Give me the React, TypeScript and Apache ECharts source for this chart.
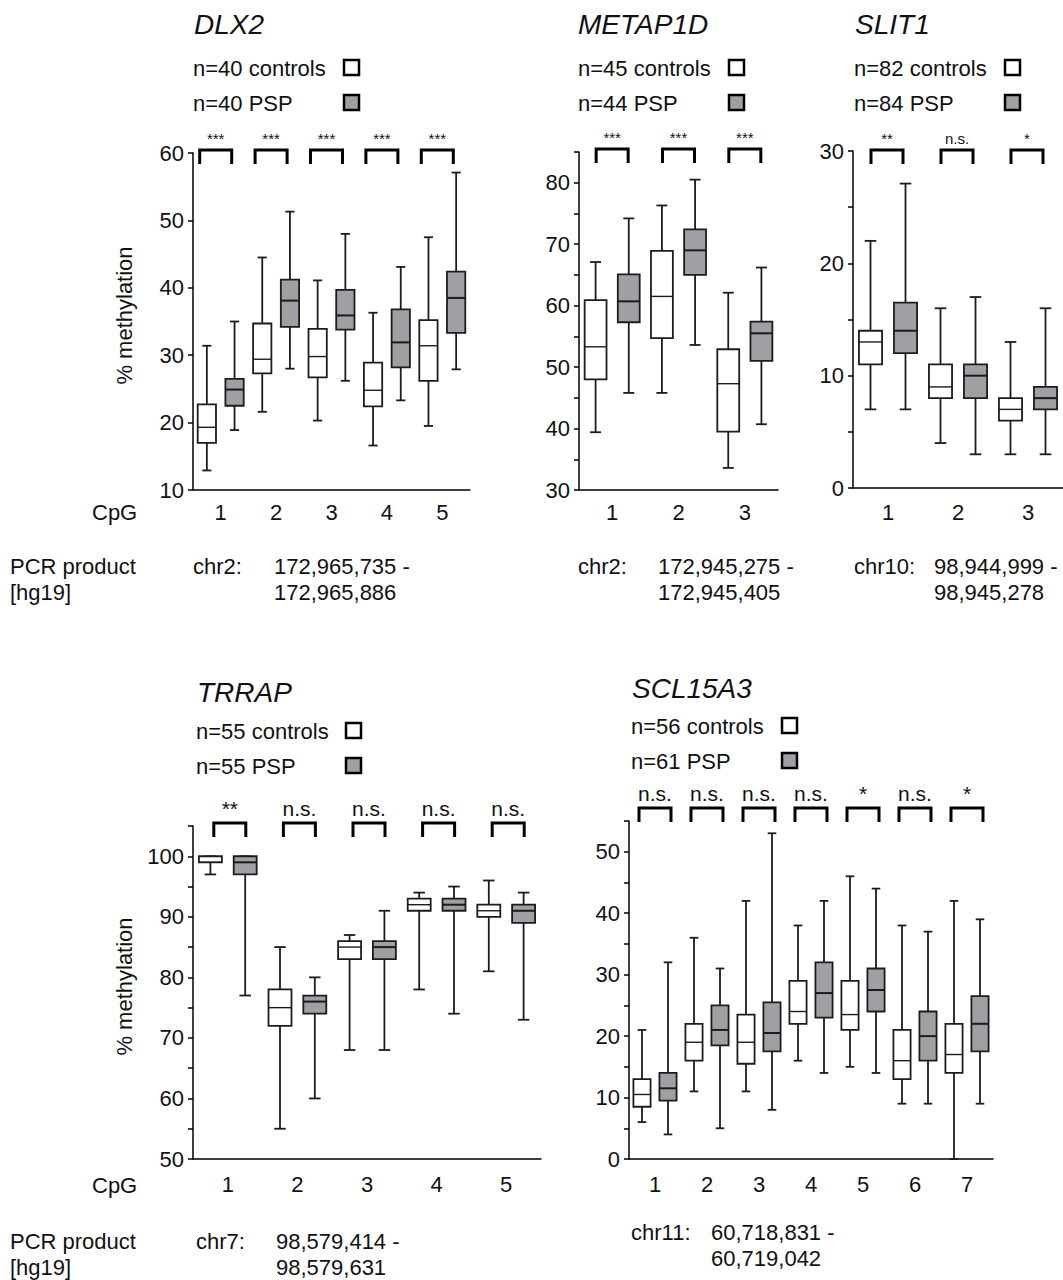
import React, { useEffect, useRef } from "react";
import * as echarts from "echarts";

const FONT = '"Liberation Sans", Arial, Helvetica, sans-serif';
const PSP_FILL = "#a09fa4";
const EDGE = "#1c1c1c";
const INK = "#111111";

// ---- data: [lower whisker, Q1, median, Q3, upper whisker] ----
const DLX2_CTRL = [
  [12.9, 17.0, 19.3, 22.7, 31.4],
  [21.6, 27.3, 29.4, 34.7, 44.5],
  [20.3, 26.7, 29.8, 33.9, 41.1],
  [16.6, 22.4, 24.8, 28.9, 36.3],
  [19.5, 26.2, 31.4, 35.2, 47.5],
];
const DLX2_PSP = [
  [18.9, 22.5, 24.9, 26.5, 35.0],
  [28.0, 34.2, 38.1, 41.2, 51.3],
  [26.2, 33.8, 35.9, 39.7, 48.0],
  [23.3, 28.2, 31.9, 36.8, 43.1],
  [27.9, 33.3, 38.5, 42.4, 57.1],
];
const DLX2_SIG = ["***", "***", "***", "***", "***"];

const METAP1D_CTRL = [
  [39.4, 48.0, 53.3, 60.9, 67.1],
  [45.8, 54.7, 61.5, 68.9, 76.3],
  [33.6, 39.5, 47.3, 52.9, 62.1],
];
const METAP1D_PSP = [
  [45.8, 57.3, 60.7, 65.1, 74.2],
  [53.6, 65.0, 69.0, 72.4, 80.5],
  [40.7, 51.0, 55.5, 57.4, 66.2],
];
const METAP1D_SIG = ["***", "***", "***"];

const SLIT1_CTRL = [
  [7, 11, 13, 14, 22],
  [4, 8, 9, 11, 16],
  [3, 6, 7, 8, 13],
];
const SLIT1_PSP = [
  [7, 12, 14, 16.5, 27.1],
  [3, 8, 10, 11, 17],
  [3, 7, 8, 9, 16],
];
const SLIT1_SIG = ["**", "n.s.", "*"];

const TRRAP_CTRL = [
  [97, 99, 99, 100, 100],
  [55, 72, 75, 78, 85],
  [68, 83, 85, 86, 87],
  [78, 91, 92, 93, 94],
  [81, 90, 91, 92, 96],
];
const TRRAP_PSP = [
  [77, 97, 99, 100, 100],
  [60, 74, 76, 77, 80],
  [68, 83, 85, 86, 91],
  [74, 91, 92, 93, 95],
  [73, 89, 91, 92, 94],
];
const TRRAP_SIG = ["**", "n.s.", "n.s.", "n.s.", "n.s."];

const SCL15A3_CTRL = [
  [6, 8.5, 10.5, 13, 21],
  [11, 16, 19, 22, 36],
  [11, 15.5, 19, 23.5, 42],
  [16, 22, 24, 29, 38],
  [15, 21, 23.5, 29, 46],
  [9, 13, 16, 21, 38],
  [0, 14, 17, 22, 42],
];
const SCL15A3_PSP = [
  [4, 9.5, 11.5, 14, 32],
  [5, 18.5, 21, 25, 31],
  [8, 17.5, 20.5, 25.5, 53],
  [14, 23, 27, 32, 42],
  [14, 24, 27.5, 31, 44],
  [9, 16, 20, 24, 37],
  [9, 17.5, 22, 26.5, 39],
];
const SCL15A3_SIG = ["n.s.", "n.s.", "n.s.", "n.s.", "*", "n.s.", "*"];

// ---- texts ----
const TITLES = ["DLX2", "METAP1D", "SLIT1", "TRRAP", "SCL15A3"];
const N_CTRL = ["n=40 controls", "n=45 controls", "n=82 controls", "n=55 controls", "n=56 controls"];
const N_PSP = ["n=40 PSP", "n=44 PSP", "n=84 PSP", "n=55 PSP", "n=61 PSP"];
const CHROMS = ["chr2:", "chr2:", "chr10:", "chr7:", "chr11:"];
const RANGE_START = ["172,965,735 -", "172,945,275 -", "98,944,999 -", "98,579,414 -", "60,718,831 -"];
const RANGE_END = ["172,965,886", "172,945,405", "98,945,278", "98,579,631", "60,719,042"];
const Y_NAME = "% methylation";
const CPG = "CpG";
const PCR = "PCR product";
const HG = "[hg19]";

// ---- layout (positions / styles) ----
const PANELS = [
  { ctrl: DLX2_CTRL, psp: DLX2_PSP, sig: DLX2_SIG, grid: { left: 193, top: 153, width: 277, height: 337 }, yMin: 10, yMax: 60, yInt: 10,
    lift: 3, shift: -5, sigSize: 15, titleX: 194, titleY: 24, legX: 193, legY: 68, sqX: 344, infoY: 566, chrX: 193, rngX: 274, yName: true, cpgY: 512, xMargin: 11 },
  { ctrl: METAP1D_CTRL, psp: METAP1D_PSP, sig: METAP1D_SIG, grid: { left: 579, top: 152, width: 199, height: 338 }, yMin: 30, yMax: 85, yInt: 5,
    lift: 3, shift: 0, sigSize: 15, titleX: 578, titleY: 24, legX: 578, legY: 68, sqX: 729, infoY: 566, chrX: 578, rngX: 658, yName: false, cpgY: 0, xMargin: 11 },
  { ctrl: SLIT1_CTRL, psp: SLIT1_PSP, sig: SLIT1_SIG, grid: { left: 853, top: 151, width: 215, height: 337 }, yMin: 0, yMax: 30, yInt: 5,
    lift: 1, shift: -1, sigSize: 15, titleX: 855, titleY: 24, legX: 854, legY: 68, sqX: 1005, infoY: 566, chrX: 854, rngX: 934, yName: false, cpgY: 0, xMargin: 13 },
  { ctrl: TRRAP_CTRL, psp: TRRAP_PSP, sig: TRRAP_SIG, grid: { left: 193, top: 826, width: 348, height: 333 }, yMin: 50, yMax: 105, yInt: 5,
    lift: 3, shift: 2, sigSize: 21, titleX: 197, titleY: 692, legX: 196, legY: 731, sqX: 346, infoY: 1241, chrX: 196, rngX: 276, yName: true, cpgY: 1185, xMargin: 14 },
  { ctrl: SCL15A3_CTRL, psp: SCL15A3_PSP, sig: SCL15A3_SIG, grid: { left: 629, top: 821, width: 364, height: 338 }, yMin: 0, yMax: 55, yInt: 5,
    lift: 13, shift: 0, sigSize: 21, titleX: 632, titleY: 688, legX: 631, legY: 726, sqX: 782, infoY: 1232, chrX: 631, rngX: 711, yName: false, cpgY: 0, xMargin: 14 },
];

const renderBox = (_params: any, api: any) => {
  const idx = api.value(0);
  const lo = api.coord([idx, api.value(1)]);
  const q1 = api.coord([idx, api.value(2)]);
  const md = api.coord([idx, api.value(3)]);
  const q3 = api.coord([idx, api.value(4)]);
  const hi = api.coord([idx, api.value(5)]);
  const psp = api.value(6) === 1;
  const band = api.size([1, 0])[0];
  const bw = band * 0.66;
  const cw = bw * 0.5;
  const cx = lo[0];
  const st = { stroke: EDGE, lineWidth: 1.8, fill: null };
  return {
    type: "group",
    children: [
      { type: "line", shape: { x1: cx, y1: hi[1], x2: cx, y2: q3[1] }, style: st },
      { type: "line", shape: { x1: cx, y1: q1[1], x2: cx, y2: lo[1] }, style: st },
      { type: "line", shape: { x1: cx - cw / 2, y1: hi[1], x2: cx + cw / 2, y2: hi[1] }, style: st },
      { type: "line", shape: { x1: cx - cw / 2, y1: lo[1], x2: cx + cw / 2, y2: lo[1] }, style: st },
      {
        type: "rect",
        shape: { x: cx - bw / 2, y: q3[1], width: bw, height: q1[1] - q3[1] },
        style: { fill: psp ? PSP_FILL : "#ffffff", stroke: EDGE, lineWidth: 1.8 },
      },
      { type: "line", shape: { x1: cx - bw / 2, y1: md[1], x2: cx + bw / 2, y2: md[1] }, style: { stroke: EDGE, lineWidth: psp ? 2 : 1.4 } },
    ],
  };
};

const makeBracket = (p: any) => (_params: any, api: any) => {
  const k = api.value(0);
  const a = api.coord([2 * k, p.yMax]);
  const b = api.coord([2 * k + 1, p.yMax]);
  const cx = (a[0] + b[0]) / 2 + p.shift;
  const top = a[1] - p.lift;
  const half = 16;
  return {
    type: "group",
    children: [
      {
        type: "polyline",
        shape: { points: [[cx - half, top + 14], [cx - half, top], [cx + half, top], [cx + half, top + 14]] },
        style: { stroke: "#000", lineWidth: 3, fill: null, lineJoin: "miter" },
      },
      {
        type: "text",
        x: cx,
        y: top - 4,
        style: { text: p.sig[k], fontSize: p.sigSize, fontFamily: FONT, fill: INK, align: "center", verticalAlign: "bottom" },
      },
    ],
  };
};

function buildOption() {
  const grid: any[] = [];
  const xAxis: any[] = [];
  const yAxis: any[] = [];
  const series: any[] = [];
  const graphic: any[] = [];

  const txt = (text: string, x: number, y: number, size = 22, extra: any = {}) => ({
    type: "text",
    x,
    y,
    silent: true,
    style: { text, fontSize: size, fontFamily: FONT, fill: INK, align: "left", verticalAlign: "middle", ...extra },
  });

  PANELS.forEach((p, i) => {
    const n = p.ctrl.length;
    grid.push({ ...p.grid, containLabel: false });
    const boxCats: string[] = [];
    const pairCats: string[] = [];
    for (let k = 0; k < n; k++) {
      boxCats.push(`${k + 1}c`, `${k + 1}p`);
      pairCats.push(String(k + 1));
    }
    xAxis.push({
      type: "category",
      gridIndex: i,
      position: "bottom",
      data: boxCats,
      axisLine: { lineStyle: { color: "#000", width: 1.5 } },
      axisTick: { alignWithLabel: true, length: 7, lineStyle: { color: "#000", width: 1.5 } },
      axisLabel: { show: false },
      splitLine: { show: false },
    });
    xAxis.push({
      type: "category",
      gridIndex: i,
      position: "bottom",
      data: pairCats,
      axisLine: { show: false },
      axisTick: { show: false },
      axisLabel: { fontSize: 22, fontFamily: FONT, color: INK, margin: p.xMargin },
      splitLine: { show: false },
    });
    yAxis.push({
      type: "value",
      gridIndex: i,
      min: p.yMin,
      max: p.yMax,
      interval: p.yInt,
      axisLine: { show: true, lineStyle: { color: "#000", width: 1.5 } },
      axisTick: { show: true, length: 5, lineStyle: { color: "#000", width: 1.5 } },
      axisLabel: {
        fontSize: 22,
        fontFamily: FONT,
        color: INK,
        margin: 9,
        formatter: (v: number) => (v % 10 === 0 ? String(v) : ""),
      },
      splitLine: { show: false },
    });

    const boxData: any[] = [];
    for (let k = 0; k < n; k++) {
      boxData.push([2 * k, ...p.ctrl[k], 0]);
      boxData.push([2 * k + 1, ...p.psp[k], 1]);
    }
    series.push({
      type: "custom",
      xAxisIndex: 2 * i,
      yAxisIndex: i,
      renderItem: renderBox,
      encode: { x: 0, y: [1, 2, 3, 4, 5] },
      data: boxData,
      clip: false,
      silent: true,
    });
    series.push({
      type: "custom",
      xAxisIndex: 2 * i,
      yAxisIndex: i,
      renderItem: makeBracket(p),
      encode: { x: 0, y: 1 },
      data: p.sig.map((_s: string, k: number) => [k, p.yMin]),
      clip: false,
      silent: true,
    });

    // titles & legends
    graphic.push(txt(TITLES[i], p.titleX, p.titleY, 28, { fontStyle: "italic" }));
    graphic.push(txt(N_CTRL[i], p.legX, p.legY));
    graphic.push(txt(N_PSP[i], p.legX, p.legY + 35));
    graphic.push({
      type: "rect",
      silent: true,
      shape: { x: p.sqX, y: p.legY - 8, width: 15, height: 15 },
      style: { fill: "#ffffff", stroke: "#000", lineWidth: 2.5 },
    });
    graphic.push({
      type: "rect",
      silent: true,
      shape: { x: p.sqX, y: p.legY + 27, width: 15, height: 15 },
      style: { fill: PSP_FILL, stroke: "#000", lineWidth: 2.5 },
    });
    // chromosome info
    graphic.push(txt(CHROMS[i], p.chrX, p.infoY));
    graphic.push(txt(RANGE_START[i], p.rngX, p.infoY));
    graphic.push(txt(RANGE_END[i], p.rngX, p.infoY + 26));
    if (p.yName) {
      const cy = p.grid.top + p.grid.height / 2 - 6;
      graphic.push({
        type: "text",
        x: 124,
        y: cy,
        rotation: Math.PI / 2,
        silent: true,
        style: { text: Y_NAME, fontSize: 22, fontFamily: FONT, fill: INK, align: "center", verticalAlign: "middle" },
      });
      graphic.push(txt(CPG, 92, p.cpgY));
      graphic.push(txt(PCR, 10, p.infoY));
      graphic.push(txt(HG, 10, p.infoY + 26));
    }
  });

  return {
    animation: false,
    backgroundColor: "#ffffff",
    grid,
    xAxis,
    yAxis,
    series,
    graphic,
  };
}

export default function App() {
  const ref = useRef<HTMLDivElement>(null);
  useEffect(() => {
    if (!ref.current) return;
    const chart = echarts.init(ref.current, null, { renderer: "svg" });
    chart.setOption(buildOption() as any);
    return () => chart.dispose();
  }, []);
  return (
    <div
      ref={ref}
      style={{ position: "absolute", left: 0, top: 0, width: 1063, height: 1280, background: "#fff" }}
    />
  );
}
